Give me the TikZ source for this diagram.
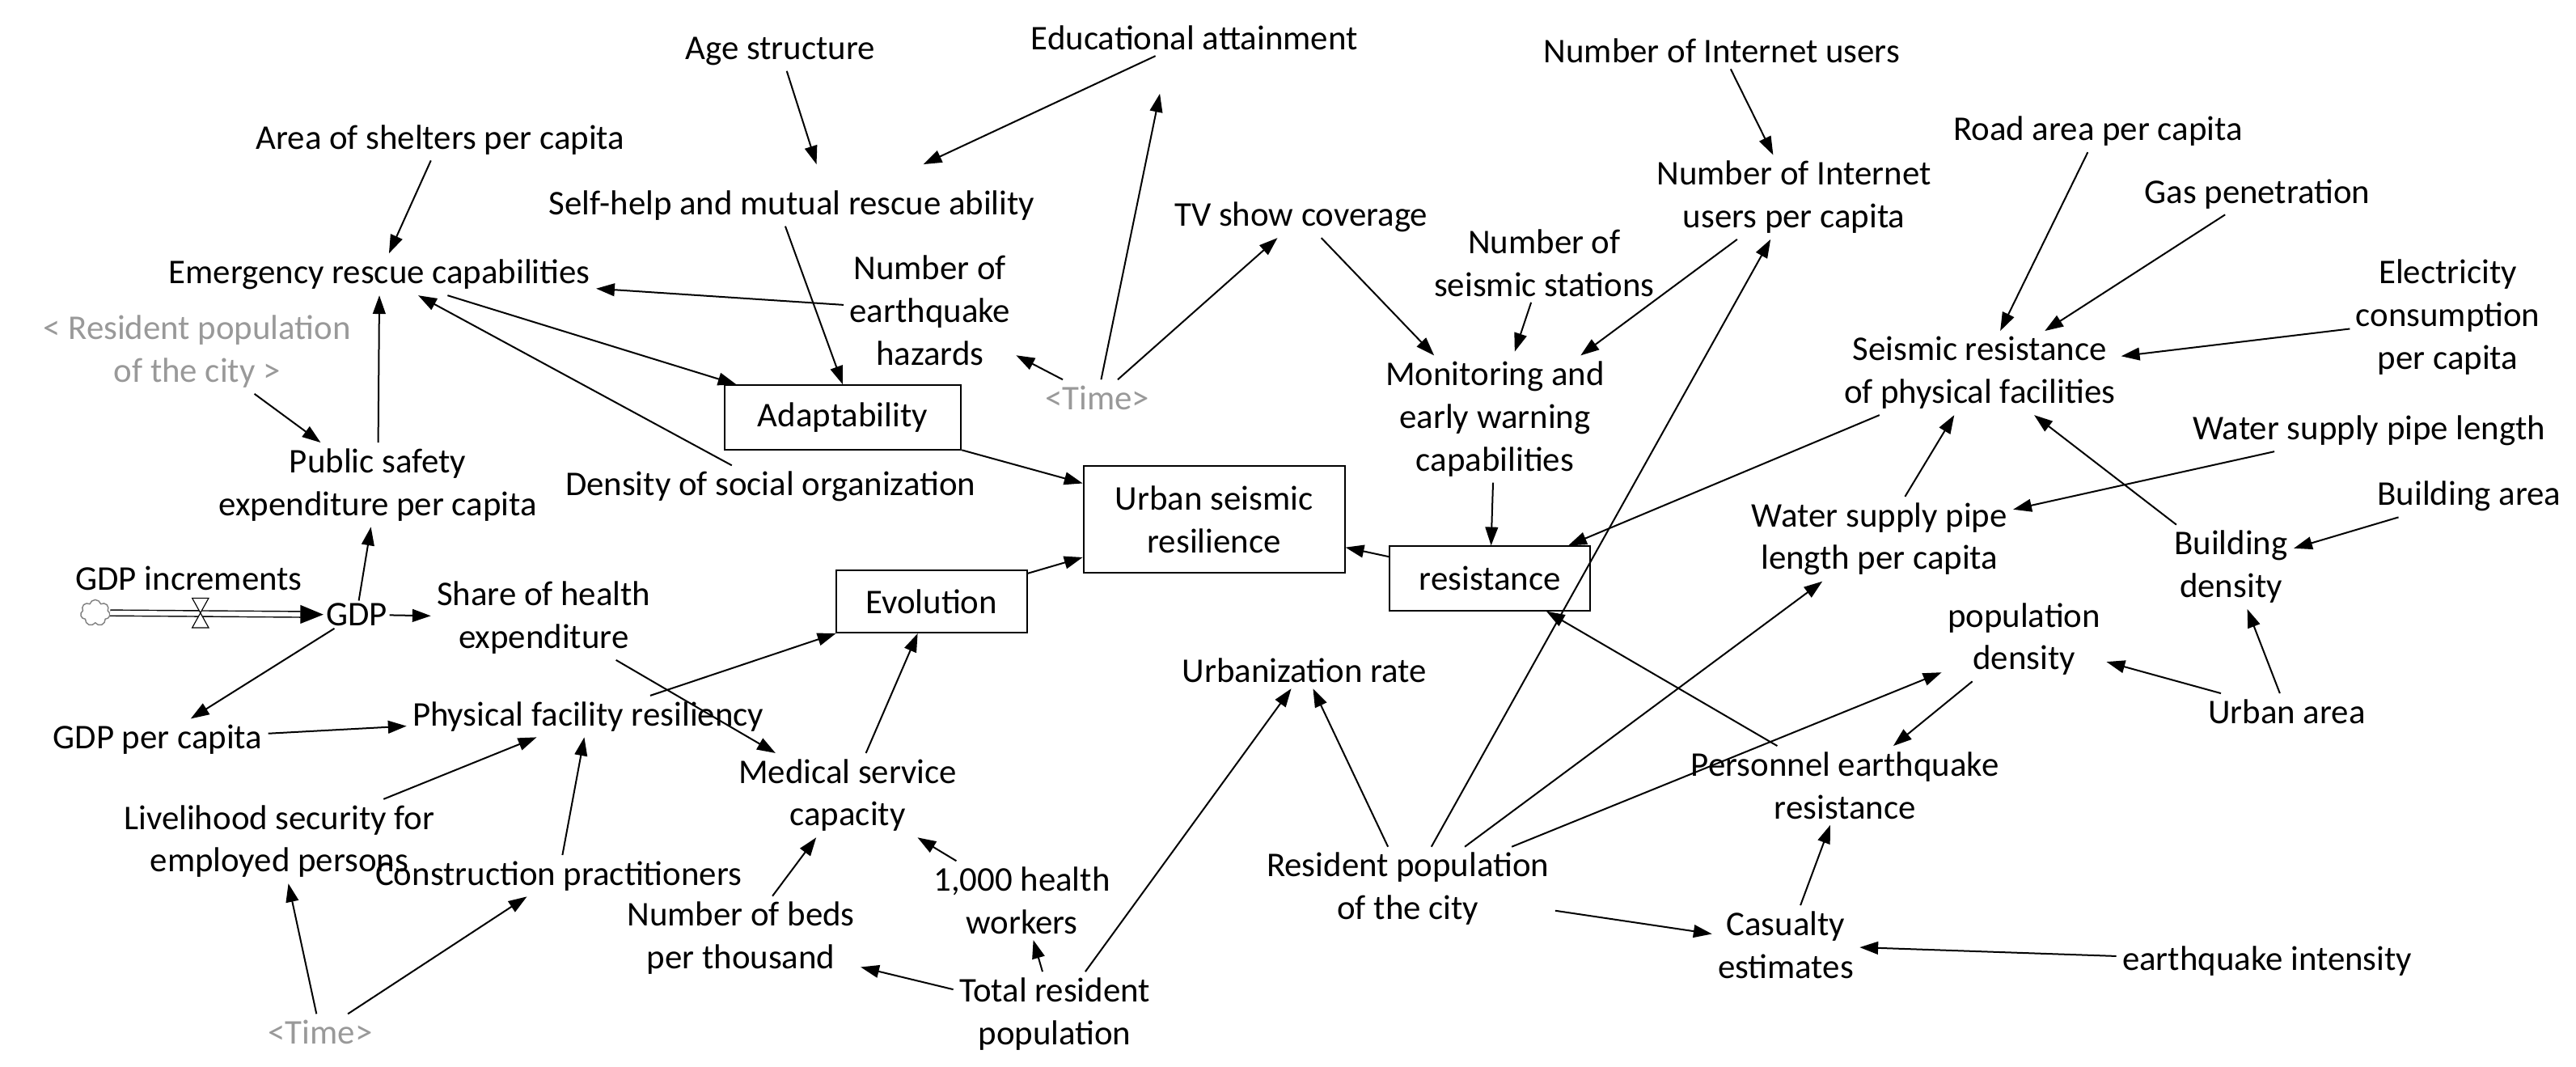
\documentclass[tikz,border=0pt]{standalone}
\usepackage{fontspec}
\setmainfont{Carlito}
\usetikzlibrary{arrows.meta,shapes.symbols}
\begin{document}
\begin{tikzpicture}[x=0.05cm,y=-0.05cm,
  every node/.style={font=\fontsize{30}{37}\selectfont,align=center,inner sep=5pt},
  g/.style={text=black!40},
  bx/.style={draw,line width=1.4pt,inner sep=0pt},
  ar/.style={line width=1.4pt,-{Triangle[length=16pt,width=11pt]}}]
\useasboundingbox (0,0) rectangle (1568,649);
\node (ageS) at (475,31) {Age structure};
\node (edu) at (727,23) {Educational attainment};
\node (netU) at (1048,31) {Number of Internet users};
\node (road) at (1277,80) {Road area per capita};
\node (gas) at (1374,118) {Gas penetration};
\node (elec) at (1490,193) {Electricity\\consumption\\per capita};
\node (shelt) at (268,85) {Area of shelters per capita};
\node (selfh) at (482,125) {Self-help and mutual rescue ability};
\node (netpc) at (1092,120) {Number of Internet\\users per capita};
\node (tv) at (792,132) {TV show coverage};
\node (emerg) at (231,167) {Emergency rescue capabilities};
\node (quake) at (566,189) {Number of\\earthquake\\hazards};
\node (stations) at (940,160) {Number of\\seismic stations};
\node[g] (respopg) at (120,214) {< Resident population\\of the city >};
\node[g] (time1) at (668,242) {<Time>};
\node (monitor) at (910,255) {Monitoring and\\early warning\\capabilities};
\node (seis) at (1205,227) {Seismic resistance\\of physical facilities};
\node (water) at (1442,262) {Water supply pipe length};
\node[bx,minimum width=7.2cm,minimum height=1.95cm] (adapt) at (513,254) {Adaptability};
\node (pubsafe) at (230,295) {Public safety\\expenditure per capita};
\node (density) at (469,296) {Density of social organization};
\node[bx,minimum width=7.95cm,minimum height=3.25cm] (urban) at (739,316) {Urban seismic\\resilience};
\node[bx,minimum width=6.1cm,minimum height=1.95cm] (resist) at (907,352) {resistance};
\node (wpc) at (1144,328) {Water supply pipe\\length per capita};
\node (bldarea) at (1503,302) {Building area};
\node (blddens) at (1358,345) {Building\\density};
\node (gdpinc) at (115,352) {GDP increments};
\node[inner sep=2pt] (gdp) at (217,374) {GDP};
\node (share) at (331,376) {Share of health\\expenditure};
\node[bx,minimum width=5.8cm,minimum height=1.9cm] (evol) at (567,366) {Evolution};
\node (popd) at (1232,389) {population\\density};
\node (urbr) at (794,408) {Urbanization rate};
\node (urbarea) at (1392,433) {Urban area};
\node (gdppc) at (96,450) {GDP per capita};
\node (phys) at (358,436) {Physical facility resiliency};
\node (med) at (516,484) {Medical service\\capacity};
\node (pers) at (1123,478) {Personnel earthquake\\resistance};
\node (liveli) at (170,512) {Livelihood security for\\employed persons};
\node (constr) at (340,533) {Construction practitioners};
\node (hw) at (622,548) {1,000 health\\workers};
\node (respop) at (857,541) {Resident population\\of the city};
\node (casualty) at (1087,575) {Casualty\\estimates};
\node (eqint) at (1380,585) {earthquake intensity};
\node (beds) at (451,571) {Number of beds\\per thousand};
\node (total) at (642,617) {Total resident\\population};
\node[g] (time2) at (195,628) {<Time>};
% stock-flow
\node[cloud,draw=black!50,line width=1pt,cloud puffs=7,minimum width=0.9cm,minimum height=0.8cm,inner sep=0pt] (cloud) at (58,373) {};
\draw[line width=1pt,double distance=4pt,-{Triangle[length=20pt,width=16pt]}] (cloud.east) -- (gdp.west);
\node[inner sep=0pt,minimum size=0pt] (valve) at (122,373) {};
\draw[line width=0.8pt,fill=white] (117,364) -- (127,364) -- (117,382) -- (127,382) -- cycle;
% connectors
\draw[ar] (ageS) -- (497,100);
\draw[ar] (edu) -- (562,100);
\draw[ar] (shelt) -- (emerg);
\draw[ar] (selfh.south) ++(-4,0) -- (adapt.north);
\draw[ar] (quake) -- (emerg);
\draw[ar] (emerg) -- (adapt);
\draw[ar] (density) -- (emerg);
\draw[ar] (pubsafe) -- (emerg);
\draw[ar] (respopg) -- (pubsafe);
\draw[ar] (time1) -- (quake);
\draw[ar] (time1) -- (706,57);
\draw[ar] (time1) -- (tv);
\draw[ar] (tv) -- (monitor);
\draw[ar] (stations) -- (922,214);
\draw[ar] (netU) -- (netpc);
\draw[ar] (netpc) -- (monitor);
\draw[ar] (monitor) -- (resist);
\draw[ar] (road) -- (seis);
\draw[ar] (gas) -- (seis);
\draw[ar] (elec) -- (seis);
\draw[ar] (seis) -- (resist);
\draw[ar] (water) -- (wpc);
\draw[ar] (wpc) -- (seis);
\draw[ar] (blddens) -- (seis);
\draw[ar] (bldarea) -- (blddens);
\draw[ar] (urbarea) -- (blddens);
\draw[ar] (urbarea) -- (popd);
\draw[ar] (popd) -- (pers);
\draw[ar] (pers) -- (resist);
\draw[ar] (respop) -- (netpc);
\draw[ar] (respop) -- (wpc);
\draw[ar] (respop) -- (popd);
\draw[ar] (respop) -- (urbr);
\draw[ar] (respop) -- (casualty);
\draw[ar] (casualty) -- (pers);
\draw[ar] (eqint) -- (casualty);
\draw[ar] (resist) -- (urban);
\draw[ar] (adapt) -- (urban);
\draw[ar] (evol) -- (urban);
\draw[ar] (gdp) -- (pubsafe);
\draw[ar] (gdp) -- (share);
\draw[ar] (gdp) -- (gdppc);
\draw[ar] (gdppc) -- (phys);
\draw[ar] (share) -- (med);
\draw[ar] (phys) -- (evol);
\draw[ar] (med) -- (evol);
\draw[ar] (liveli) -- (phys);
\draw[ar] (constr) -- (phys);
\draw[ar] (hw) -- (med);
\draw[ar] (beds) -- (med);
\draw[ar] (total) -- (hw);
\draw[ar] (total) -- (beds);
\draw[ar] (total) -- (urbr);
\draw[ar] (time2) -- (liveli);
\draw[ar] (time2) -- (constr);
\end{tikzpicture}
\end{document}
